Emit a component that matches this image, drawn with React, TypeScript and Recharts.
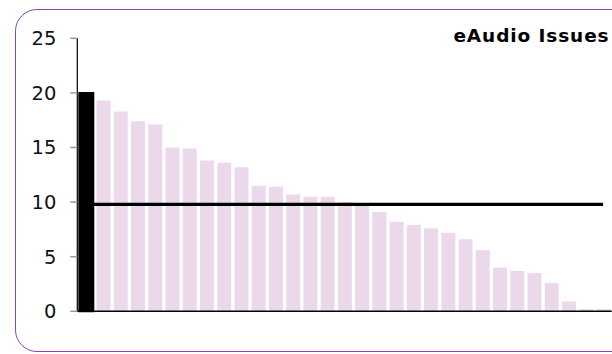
import React from "react";
import { ComposedChart, Bar, Line, XAxis, YAxis, Cell } from "recharts";

const categories: string[] = [
  "1", "2", "3", "4", "5", "6", "7", "8", "9", "10", "11", "12", "13", "14", "15", "16",
  "17", "18", "19", "20", "21", "22", "23", "24", "25", "26", "27", "28", "29", "30", "31",
];

const issues: number[] = [
  20.0, 19.3, 18.3, 17.4, 17.1, 15.0, 14.9, 13.8, 13.6, 13.2, 11.5, 11.4, 10.7, 10.5, 10.5, 10.0,
  9.9, 9.1, 8.2, 7.9, 7.6, 7.2, 6.6, 5.6, 4.0, 3.7, 3.5, 2.6, 0.9, 0.2, 0.2,
];

const average: number[] = [
  9.8, 9.8, 9.8, 9.8, 9.8, 9.8, 9.8, 9.8, 9.8, 9.8, 9.8, 9.8, 9.8, 9.8, 9.8, 9.8,
  9.8, 9.8, 9.8, 9.8, 9.8, 9.8, 9.8, 9.8, 9.8, 9.8, 9.8, 9.8, 9.8, 9.8, 9.8,
];

const yTicks: number[] = [0, 5, 10, 15, 20, 25];

const title = "eAudio Issues";

const data = categories.map((c, i) => ({ name: c, issues: issues[i], avg: average[i] }));

export default function App() {
  return (
    <div
      style={{
        position: "absolute",
        left: 0,
        top: 0,
        width: 612,
        height: 354,
        overflow: "hidden",
        background: "#fff",
      }}
    >
      <div
        style={{
          position: "absolute",
          left: 14.5,
          top: 8.5,
          width: 620,
          height: 341,
          border: "1.6px solid #8448BA",
          borderRadius: 22,
          boxSizing: "content-box",
        }}
      />
      <div
        style={{
          position: "absolute",
          right: 2.5,
          top: 25.5,
          fontFamily: "'DejaVu Sans', Verdana, sans-serif",
          fontWeight: "bold",
          fontSize: 18.5,
          letterSpacing: 0.9,
          lineHeight: "20px",
          color: "#000",
          whiteSpace: "nowrap",
        }}
      >
        {title}
      </div>
      <div style={{ position: "absolute", left: 0, top: 0 }}>
        <ComposedChart
          width={612}
          height={354}
          data={data}
          margin={{ top: 38.3, right: 0.3, left: 0, bottom: 41.7 }}
          barSize={14}
        >
          <XAxis
            dataKey="name"
            tick={false}
            tickLine={false}
            axisLine={{ stroke: "#000", strokeWidth: 1.5 }}
            height={1}
          />
          <YAxis
            domain={[0, 25]}
            ticks={yTicks}
            width={77.3}
            interval={0}
            tickSize={7}
            tickMargin={14}
            axisLine={{ stroke: "#000", strokeWidth: 1.2 }}
            tickLine={{ stroke: "#999", strokeWidth: 1.5 }}
            tick={{ fill: "#111", fontSize: 19.5, fontFamily: "'DejaVu Sans', Verdana, sans-serif" }}
          />
          <Bar dataKey="issues" isAnimationActive={false}>
            {data.map((d, i) => (
              <Cell
                key={d.name}
                fill={i === 0 ? "#000" : "#EBD9EB"}
                stroke={i === 0 ? "#000" : "none"}
                strokeWidth={i === 0 ? 2 : 0}
              />
            ))}
          </Bar>
          <Line
            dataKey="avg"
            stroke="#000"
            strokeWidth={3.3}
            dot={false}
            activeDot={false}
            isAnimationActive={false}
          />
        </ComposedChart>
      </div>
    </div>
  );
}
